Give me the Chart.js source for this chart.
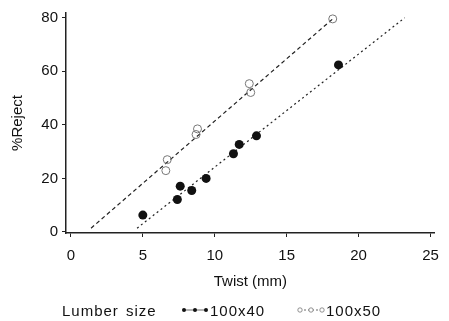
<!DOCTYPE html>
<html>
<head>
<meta charset="utf-8">
<script src="https://cdn.jsdelivr.net/npm/chart.js@4/dist/chart.umd.min.js"></script>
<style>
  html, body { margin: 0; padding: 0; background: #fff; }
  #wrap { width: 449px; height: 321px; position: relative; }
</style>
</head>
<body>
<div id="wrap"><canvas id="chart" width="449" height="321"></canvas></div>
<script>
// twist (mm) vs % rejected, per lumber size
const sizes = ['100x40', '100x50'];

const twist40 = [5.0, 7.4, 7.6, 8.4, 9.4, 11.3, 11.7, 12.9, 18.6];
const reject40 = [6.3, 12.1, 17.1, 15.5, 20.0, 29.2, 32.7, 35.9, 62.4];

const twist50 = [6.6, 6.7, 8.8, 8.7, 12.4, 12.5, 18.2];
const reject50 = [22.9, 27.0, 38.5, 36.4, 55.4, 52.1, 79.6];

// fitted lines, start and end points
const fitTwist40 = [4.6, 23.2];
const fitReject40 = [1.4, 80.0];
const fitTwist50 = [1.4, 18.2];
const fitReject50 = [1.4, 79.6];

const xTicks = [0, 5, 10, 15, 20, 25];
const yTicks = [0, 20, 40, 60, 80];

function pts(xs, ys) {
  return xs.map((x, i) => ({ x: x, y: ys[i] }));
}

const FONT = "'Liberation Sans', Arial, Helvetica, sans-serif";

// legend along the bottom: "Lumber size  •-•-• 100x40  o-o-o 100x50"
const bottomLegend = {
  id: 'bottomLegend',
  afterDraw(chart) {
    const ctx = chart.ctx;
    const y = 312;
    ctx.save();
    ctx.font = '15px ' + FONT;
    ctx.letterSpacing = '1px';
    ctx.fillStyle = '#111';
    ctx.textBaseline = 'middle';
    ctx.fillText('Lumber', 62, y);
    ctx.fillText('size', 126, y);

    const items = [
      { x: 184, filled: true, label: chart.data.datasets[0].label },
      { x: 300, filled: false, label: chart.data.datasets[1].label }
    ];
    items.forEach(it => {
      ctx.strokeStyle = '#444';
      ctx.lineWidth = 0.8;
      ctx.setLineDash(it.filled ? [] : [2, 2]);
      ctx.beginPath();
      ctx.moveTo(it.x, y - 2);
      ctx.lineTo(it.x + 22, y - 2);
      ctx.stroke();
      ctx.setLineDash([]);
      for (let k = 0; k < 3; k++) {
        ctx.beginPath();
        ctx.arc(it.x + k * 11, y - 2, it.filled ? 2 : 2.2, 0, Math.PI * 2);
        if (it.filled) {
          ctx.fillStyle = '#111';
          ctx.fill();
        } else {
          ctx.fillStyle = '#fff';
          ctx.fill();
          ctx.strokeStyle = '#777';
          ctx.stroke();
        }
      }
      ctx.fillStyle = '#111';
      ctx.fillText(it.label, it.x + 26, y);
    });
    ctx.restore();
  }
};

new Chart(document.getElementById('chart').getContext('2d'), {
  type: 'scatter',
  data: {
    datasets: [
      {
        label: sizes[0],
        data: pts(twist40, reject40),
        pointRadius: 4.5,
        pointBackgroundColor: '#111',
        pointBorderColor: '#111',
        pointBorderWidth: 0,
        showLine: false
      },
      {
        label: sizes[1],
        data: pts(twist50, reject50),
        pointRadius: 4,
        pointBackgroundColor: 'rgba(255,255,255,0)',
        pointBorderColor: '#777',
        pointBorderWidth: 1,
        showLine: false
      },
      {
        label: 'fit 100x40',
        data: pts(fitTwist40, fitReject40),
        showLine: true,
        pointRadius: 0,
        borderColor: '#222',
        borderWidth: 1.2,
        borderDash: [2, 3]
      },
      {
        label: 'fit 100x50',
        data: pts(fitTwist50, fitReject50),
        showLine: true,
        pointRadius: 0,
        borderColor: '#222',
        borderWidth: 1.2,
        borderDash: [4, 3]
      }
    ]
  },
  options: {
    responsive: false,
    animation: false,
    layout: { padding: { top: 10, right: 9, bottom: 28, left: 0 } },
    plugins: {
      legend: { display: false },
      tooltip: { enabled: false }
    },
    scales: {
      x: {
        type: 'linear',
        min: -0.34,
        max: 25.3,
        afterBuildTicks: s => { s.ticks = xTicks.map(v => ({ value: v })); },
        afterFit: s => { s.height = 60; },
        ticks: { color: '#111', font: { family: FONT, size: 15 }, padding: 10 },
        grid: { display: true, drawOnChartArea: false, drawTicks: true, tickLength: 4, color: '#222' },
        border: { display: true, color: '#222', width: 1.5 },
        title: { display: true, text: 'Twist (mm)', color: '#111', font: { family: FONT, size: 15 }, padding: { top: 0, bottom: 2 } }
      },
      y: {
        type: 'linear',
        min: -0.4,
        max: 81.8,
        afterBuildTicks: s => { s.ticks = yTicks.map(v => ({ value: v })); },
        afterFit: s => { s.width = 66; },
        ticks: { color: '#111', font: { family: FONT, size: 15 }, padding: 4 },
        grid: { display: true, drawOnChartArea: false, drawTicks: true, tickLength: 4, color: '#222' },
        border: { display: true, color: '#222', width: 1.5 },
        title: { display: true, text: '%Reject', color: '#111', font: { family: FONT, size: 15 }, padding: { top: 9, bottom: 0 } }
      }
    }
  },
  plugins: [bottomLegend]
});
</script>
</body>
</html>
